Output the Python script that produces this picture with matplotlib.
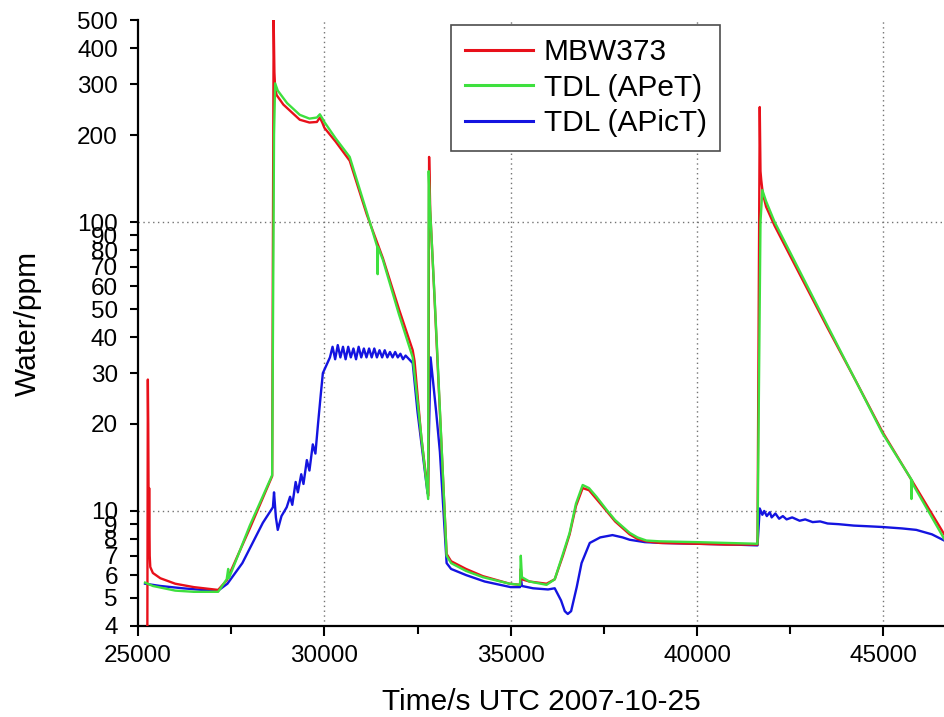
import matplotlib.pyplot as plt
from matplotlib.ticker import FixedLocator, FixedFormatter

plt.rcParams['font.family'] = ['Liberation Sans', 'DejaVu Sans']

# MBW373 (red)
mbw_t = [25250, 25265, 25275, 25290, 25300, 25315, 25330, 25400, 25600, 26000,
         26500, 27150, 27380, 28000, 28600, 28640, 28660, 28680, 28720, 28900,
         29340, 29600, 29800, 29880, 29950, 30000, 30300, 30680, 31140, 31570,
         32000, 32370, 32420, 32600, 32790, 32810, 32840, 32960, 33040, 33280,
         33400, 33800, 34250, 34970, 35250, 35270, 35300, 35500, 35960, 36180,
         36400, 36580, 36750, 36930, 37100, 37300, 37570, 37800, 38190, 38400,
         38640, 39000, 39990, 40800, 41620, 41680, 41700, 41720, 41760, 41850,
         42080, 42750, 43500, 44250, 44970, 45800, 46630]
mbw_w = [3.0, 28.5, 20, 8, 12, 7, 6.4, 6.1, 5.85, 5.6,
         5.45, 5.33, 5.75, 8.7, 13.2, 500, 330, 290, 275, 255,
         226, 221, 222, 230, 220, 212, 190, 163, 106, 75,
         50, 36, 33, 18, 11.3, 168, 110, 53, 32, 7.1,
         6.7, 6.3, 5.95, 5.6, 5.55, 6.3, 5.8, 5.7, 5.6, 5.8,
         7.0, 8.3, 10.4, 12.0, 11.8, 11.0, 10.0, 9.2, 8.3, 8.0,
         7.85, 7.75, 7.7, 7.65, 7.65, 250, 150, 140, 126, 113,
         97, 66, 43, 28.3, 18.8, 12.5, 8.3]

# TDL (APeT) (green)
apet_t = [25190, 25400, 26000, 26500, 27150, 27380, 27420, 27440, 28000, 28600,
          28650, 28680, 28750, 29000, 29340, 29600, 29800, 29880, 29950, 30000,
          30300, 30680, 31140, 31420, 31430, 31440, 31570, 32000, 32370, 32785,
          32800, 32830, 32960, 33040, 33280, 33400, 33800, 34250, 34970, 35250,
          35270, 35300, 35500, 35960, 36180, 36400, 36580, 36750, 36930, 37100,
          37300, 37570, 37800, 38190, 38400, 38640, 39000, 39990, 40800, 41620,
          41700, 41750, 41850, 42080, 42750, 43500, 44250, 44970, 45740, 45750,
          45760, 45800, 46630]
apet_w = [5.65, 5.5, 5.3, 5.25, 5.25, 5.8, 6.3, 5.85, 8.9, 13.3,
          200, 302, 285, 258, 235, 228, 230, 236, 228, 222,
          195, 168, 108, 82, 66, 82, 74, 48, 34, 11.0,
          150, 115, 54, 33, 7.0, 6.6, 6.2, 5.9, 5.6, 5.55,
          7.0, 5.9, 5.7, 5.55, 5.8, 7.1, 8.4, 10.6, 12.3, 12.0,
          11.2, 10.1, 9.3, 8.4, 8.1, 7.9, 7.85, 7.8, 7.75, 7.7,
          100, 129, 118, 100, 67.7, 43.7, 28.3, 18.6, 12.9, 11.0,
          12.8, 12.3, 8.0]

# TDL (APicT) (blue)
apict_t = [25190, 25600, 26200, 26800, 27150, 27400, 27800, 28350, 28620, 28650,
           28700, 28750, 28850, 28990, 29080, 29140, 29230, 29290, 29380, 29440,
           29530, 29600, 29690, 29760, 29830, 29900, 29960, 30150, 30220, 30290,
           30360, 30430, 30500, 30570, 30640, 30710, 30780, 30850, 30920, 30990,
           31060, 31130, 31200, 31270, 31340, 31410, 31480, 31550, 31620, 31690,
           31760, 31830, 31900, 31970, 32040, 32110, 32180, 32370, 32500, 32770,
           32850, 33000, 33100, 33280, 33400, 33800, 34300, 35000, 35250, 35270,
           35300, 35600, 36000, 36180, 36350, 36450, 36530, 36620, 36770, 36900,
           37120, 37400, 37730, 38000, 38190, 38600, 39080, 40000, 41000, 41620,
           41680, 41750, 41800, 41870, 41950, 42000, 42100, 42200, 42300, 42400,
           42550, 42750, 42900, 43100, 43300, 43500, 43800, 44200, 44600, 44970,
           45500, 45880, 46300, 46630]
apict_w = [5.6, 5.5, 5.4, 5.32, 5.3, 5.6, 6.6, 9.1, 10.3, 11.6,
           9.5, 8.6, 9.6, 10.3, 11.2, 10.5, 12.6, 11.6, 13.4, 12.4,
           15.0, 13.8, 17.0, 15.8, 20, 25, 30, 34, 37, 33.5,
           37.5, 34, 37, 33.5, 37, 34, 36.5, 33.5, 37, 34,
           36.5, 34, 36.5, 34, 36.5, 34, 36, 34, 36, 34,
           35.5, 34, 35.5, 34, 35, 33.5, 34.5, 32.5, 22, 11.5,
           34, 22, 16, 6.6, 6.3, 6.0, 5.7, 5.45, 5.45, 5.9,
           5.5, 5.4, 5.35, 5.4, 4.9, 4.5, 4.4, 4.5, 5.45, 6.6,
           7.75, 8.1, 8.25, 8.1, 7.95, 7.8, 7.75, 7.7, 7.65, 7.6,
           10.2, 9.7, 10.0, 9.6, 9.9, 9.5, 9.8, 9.4, 9.6, 9.35,
           9.5, 9.25, 9.35, 9.15, 9.2, 9.05, 9.0, 8.9, 8.85, 8.8,
           8.7, 8.6, 8.3, 7.9]

y_ticks = [4, 5, 6, 7, 8, 9, 10, 20, 30, 40, 50, 60, 70, 80, 90, 100, 200, 300, 400, 500]
x_ticks = [25000, 30000, 35000, 40000, 45000]
x_minor = [27500, 32500, 37500, 42500]

fig = plt.figure(figsize=(9.45, 7.17), dpi=100)
ax = fig.add_axes([0.146, 0.127, 0.854, 0.845])

ax.plot(mbw_t, mbw_w, color='#e8101a', lw=1.7, label='MBW373', zorder=3)
ax.plot(apict_t, apict_w, color='#1414e0', lw=1.7, label='TDL (APicT)', zorder=2)
ax.plot(apet_t, apet_w, color='#3ee03e', lw=1.7, label='TDL (APeT)', zorder=4)

ax.set_yscale('log')
ax.set_xlim(25000, 46650)
ax.set_ylim(4, 500)

ax.yaxis.set_major_locator(FixedLocator(y_ticks))
ax.yaxis.set_major_formatter(FixedFormatter([str(v) for v in y_ticks]))
ax.yaxis.set_minor_locator(FixedLocator([]))
ax.xaxis.set_major_locator(FixedLocator(x_ticks))
ax.xaxis.set_minor_locator(FixedLocator(x_minor))

for v in [30000, 35000, 40000, 45000]:
    ax.axvline(v, color='0.45', lw=1, ls=(0, (1, 2.5)), zorder=1)
for v in [10, 100]:
    ax.axhline(v, color='0.45', lw=1, ls=(0, (1, 2.5)), zorder=1)

for s in ['top', 'right']:
    ax.spines[s].set_visible(False)
for s in ['left', 'bottom']:
    ax.spines[s].set_linewidth(1.6)

ax.tick_params(axis='both', which='major', labelsize=17.5, width=1.5, direction='out')
ax.tick_params(axis='y', length=5.5, pad=9)
ax.tick_params(axis='x', which='major', length=7.5, pad=6)
ax.tick_params(axis='x', which='minor', length=5.5, width=1.5)

ax.set_xlabel('Time/s UTC 2007-10-25', fontsize=21.5, labelpad=15)
ax.set_ylabel('Water/ppm', fontsize=21.5, labelpad=25)

handles, labels = ax.get_legend_handles_labels()
order = [0, 2, 1]
leg = ax.legend([handles[i] for i in order], [labels[i] for i in order],
                loc='upper left', bbox_to_anchor=(0.388, 0.992), fontsize=21.5,
                frameon=True, fancybox=False, framealpha=1, edgecolor='0.3',
                handlelength=2.3, handletextpad=0.35, labelspacing=0.25,
                borderpad=0.45, borderaxespad=0)
leg.get_frame().set_linewidth(1.2)
for line in leg.get_lines():
    line.set_linewidth(2.2)

fig.savefig('out.png', dpi=100)
